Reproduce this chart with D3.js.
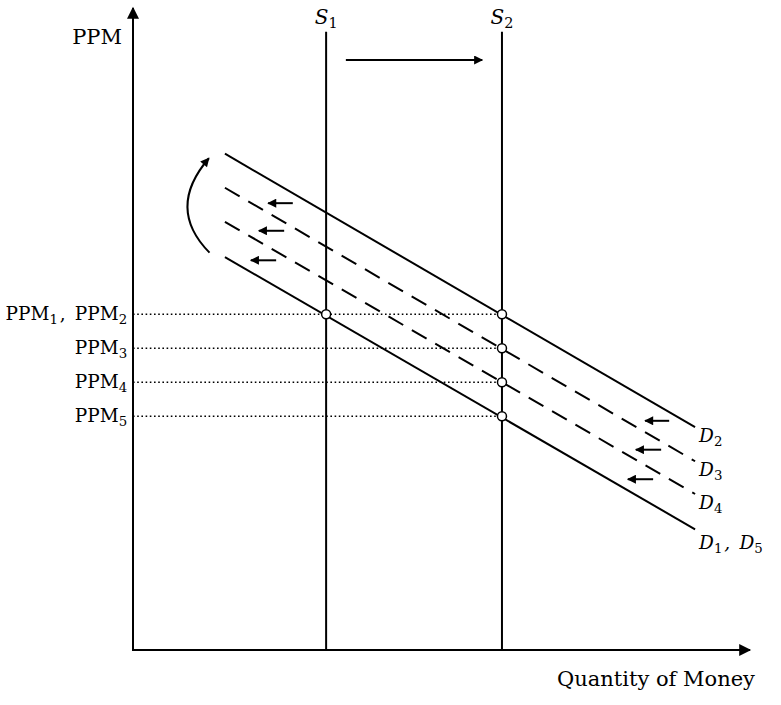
<!DOCTYPE html>
<html>
<head>
<meta charset="utf-8">
<script src="https://cdn.jsdelivr.net/npm/d3@7"></script>
<style>
body { margin: 0; background: #fff; }
text { font-family: "DejaVu Serif", serif; fill: #000; }
</style>
</head>
<body>
<div id="chart-area"></div>
<script>
// values (arbitrary units, origin = 0,0)
var supplyNames = ["1", "2"];
var supplyQty = [3.13, 5.98];

var demandSubs = [["2"], ["3"], ["4"], ["1", "5"]];
var demandX = [1.49, 9.11];
var demandStart = [7.73, 7.20, 6.67, 6.12];
var demandEnd = [3.47, 2.94, 2.43, 1.88];
var demandDashed = [false, true, true, false];

var ppmSubs = [["1", "2"], ["3"], ["4"], ["5"]];
var ppmLevels = [5.23, 4.70, 4.17, 3.64];

// equilibrium points: [supply index, ppm index]
var equilibria = [[0, 0], [1, 0], [1, 1], [1, 2], [1, 3]];

// leftward shift arrows: [y, xFrom, xTo]
var shiftArrows = [
	[6.96, 2.59, 2.19], [6.53, 2.45, 2.04], [6.07, 2.32, 1.91],
	[3.57, 8.69, 8.30], [3.12, 8.56, 8.15], [2.66, 8.43, 8.02]
];
// supply shift arrow: [y, xFrom, xTo]
var supplyArrow = [9.19, 3.45, 5.66];
// curved arrow: start, control, end
var curveArrow = [[1.24, 6.19], [0.53, 6.88], [1.23, 7.66]];

var xMax = 10, yMax = 10, supplyTop = 9.63;

var width = 781, height = 705;
var svg = d3.select("#chart-area")
	.append("svg")
		.attr("width", width)
		.attr("height", height);

var x = d3.scaleLinear().domain([0, xMax]).range([133, 750]);
var y = d3.scaleLinear().domain([0, yMax]).range([650, 8]);

// markers
var defs = svg.append("defs");
defs.append("marker")
	.attr("id", "head")
	.attr("markerUnits", "userSpaceOnUse")
	.attr("viewBox", "0 0 10 10")
	.attr("refX", 9).attr("refY", 5)
	.attr("markerWidth", 10).attr("markerHeight", 9)
	.attr("orient", "auto")
	.append("path").attr("d", "M0,0L10,5L0,10Z").attr("fill", "#000");
defs.append("marker")
	.attr("id", "axishead")
	.attr("markerUnits", "userSpaceOnUse")
	.attr("viewBox", "0 0 10 10")
	.attr("refX", 9).attr("refY", 5)
	.attr("markerWidth", 14).attr("markerHeight", 12)
	.attr("orient", "auto")
	.append("path").attr("d", "M0,0L10,5L0,10Z").attr("fill", "#000");

// dotted price levels
svg.selectAll(".level")
	.data(ppmLevels)
	.enter().append("line")
		.attr("x1", x(0)).attr("x2", x(supplyQty[1]))
		.attr("y1", function(d){ return y(d); })
		.attr("y2", function(d){ return y(d); })
		.attr("stroke", "#000")
		.attr("stroke-width", 1.6)
		.attr("stroke-dasharray", "1.6,2.6");

// supply lines
svg.selectAll(".supply")
	.data(supplyQty)
	.enter().append("line")
		.attr("x1", function(d){ return x(d); })
		.attr("x2", function(d){ return x(d); })
		.attr("y1", y(0)).attr("y2", y(supplyTop))
		.attr("stroke", "#000")
		.attr("stroke-width", 2);

// demand lines
svg.selectAll(".demand")
	.data(demandStart)
	.enter().append("line")
		.attr("x1", x(demandX[0])).attr("x2", x(demandX[1]))
		.attr("y1", function(d){ return y(d); })
		.attr("y2", function(d, i){ return y(demandEnd[i]); })
		.attr("stroke", "#000")
		.attr("stroke-width", 2)
		.attr("stroke-dasharray", function(d, i){ return demandDashed[i] ? "17,10" : null; });

// axes
svg.append("line")
	.attr("x1", x(0)).attr("y1", y(0))
	.attr("x2", x(0)).attr("y2", y(yMax))
	.attr("stroke", "#000").attr("stroke-width", 2)
	.attr("marker-end", "url(#axishead)");
svg.append("line")
	.attr("x1", x(0) - 1).attr("y1", y(0))
	.attr("x2", x(xMax)).attr("y2", y(0))
	.attr("stroke", "#000").attr("stroke-width", 2)
	.attr("marker-end", "url(#axishead)");

// shift arrows
svg.selectAll(".shift")
	.data(shiftArrows)
	.enter().append("line")
		.attr("x1", function(d){ return x(d[1]); })
		.attr("x2", function(d){ return x(d[2]); })
		.attr("y1", function(d){ return y(d[0]); })
		.attr("y2", function(d){ return y(d[0]); })
		.attr("stroke", "#000").attr("stroke-width", 2)
		.attr("marker-end", "url(#head)");

svg.append("line")
	.attr("x1", x(supplyArrow[1])).attr("x2", x(supplyArrow[2]))
	.attr("y1", y(supplyArrow[0])).attr("y2", y(supplyArrow[0]))
	.attr("stroke", "#000").attr("stroke-width", 2)
	.attr("marker-end", "url(#head)");

var cp = d3.path();
cp.moveTo(x(curveArrow[0][0]), y(curveArrow[0][1]));
cp.quadraticCurveTo(x(curveArrow[1][0]), y(curveArrow[1][1]), x(curveArrow[2][0]), y(curveArrow[2][1]));
svg.append("path")
	.attr("d", cp.toString())
	.attr("fill", "none")
	.attr("stroke", "#000").attr("stroke-width", 2)
	.attr("marker-end", "url(#head)");

// equilibrium points
svg.selectAll(".eq")
	.data(equilibria)
	.enter().append("circle")
		.attr("cx", function(d){ return x(supplyQty[d[0]]); })
		.attr("cy", function(d){ return y(ppmLevels[d[1]]); })
		.attr("r", 4.5)
		.attr("fill", "#fff")
		.attr("stroke", "#000")
		.attr("stroke-width", 1.5);

// helper: write base+subscript pairs into a text element
function subText(t, base, subs, size, italic) {
	subs.forEach(function(s, i){
		t.append("tspan")
			.text((i > 0 ? ",\u2002" : "") + base)
			.attr("font-style", italic ? "italic" : null)
			.attr("font-size", size);
		t.append("tspan")
			.text(s)
			.attr("font-size", size * 0.72)
			.attr("dy", size * 0.22);
		t.append("tspan")
			.text("\u200a")
			.attr("font-size", size)
			.attr("dy", -size * 0.22);
	});
}

// tick labels
ppmSubs.forEach(function(subs, i){
	var t = svg.append("text")
		.attr("x", x(0) - 4)
		.attr("y", y(ppmLevels[i]) + 6)
		.attr("text-anchor", "end");
	subText(t, "PPM", subs, 18.5, false);
});

// supply labels
supplyNames.forEach(function(n, i){
	var t = svg.append("text")
		.attr("x", x(supplyQty[i]) + 1)
		.attr("y", 24)
		.attr("text-anchor", "middle");
	subText(t, "S", [n], 20, true);
});

// demand labels
demandSubs.forEach(function(subs, i){
	var t = svg.append("text")
		.attr("x", x(demandX[1]) + 4)
		.attr("y", y(demandEnd[i]) + (i === 3 ? 20 : 15))
		.attr("text-anchor", "start");
	subText(t, "D", subs, 18.5, true);
});

// axis titles
svg.append("text")
	.attr("x", 122).attr("y", 44)
	.attr("text-anchor", "end")
	.attr("font-size", 21)
	.text("PPM");

svg.append("text")
	.attr("x", 755).attr("y", 686)
	.attr("text-anchor", "end")
	.attr("font-size", 21)
	.text("Quantity of Money");
</script>
</body>
</html>
